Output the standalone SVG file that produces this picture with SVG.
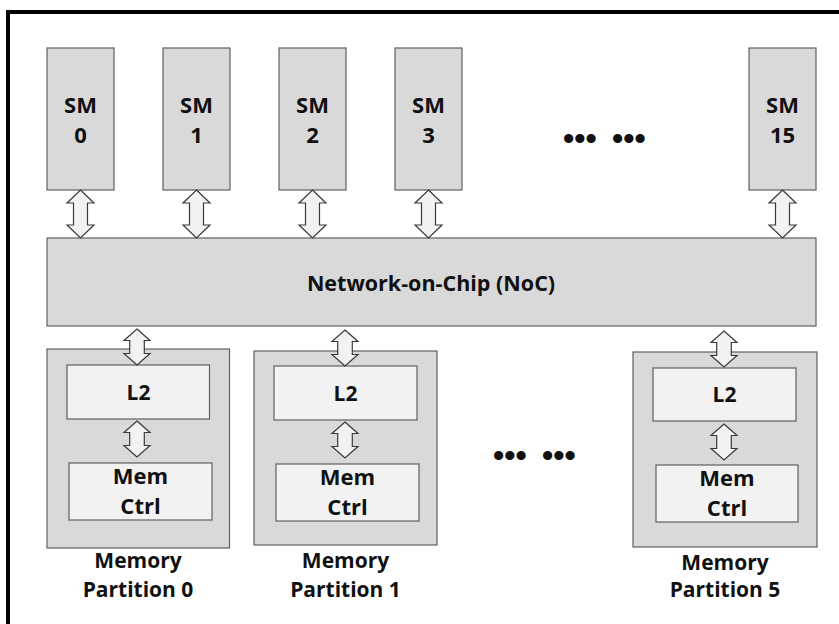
<svg xmlns="http://www.w3.org/2000/svg" width="839" height="624" viewBox="0 0 839 624">
  <defs>
    <style>
      .blk { fill: #d9d9d9; stroke: #5f5f5f; stroke-width: 1.2; }
      .inner { fill: #f2f2f2; stroke: #5f5f5f; stroke-width: 1.2; }
      .arrow { fill: #f2f2f2; stroke: #3a3a3a; stroke-width: 1.2; stroke-linejoin: miter; }
      .lbl { font-family: "Open Sans", "Liberation Sans", sans-serif; font-weight: bold; fill: #111; text-anchor: middle; }
      .dots { font-family: "Liberation Sans", sans-serif; font-weight: bold; fill: #111; font-size: 32px; word-spacing: 6.6px; }
    </style>
    <!-- double-headed block arrow, tip to tip 48px -->
    <path id="arrowBig" d="M0,0 L13.5,13 L7,13 L7,35 L13.5,35 L0,48 L-13.5,35 L-7,35 L-7,13 L-13.5,13 Z"/>
    <!-- shorter double-headed block arrow, tip to tip 36px -->
    <path id="arrowSmall" d="M0,0 L13,11.5 L7.3,11.5 L7.3,24.5 L13,24.5 L0,36 L-13,24.5 L-7.3,24.5 L-7.3,11.5 L-13,11.5 Z"/>
  </defs>

  <rect width="839" height="624" fill="#ffffff"/>
  <!-- outer frame -->
  <rect x="8" y="12" width="840" height="630" fill="none" stroke="#000" stroke-width="4"/>

  <!-- streaming multiprocessors -->
  <g id="sm0">
    <rect class="blk" x="47" y="48" width="67" height="142"/>
    <text class="lbl" x="80.5" y="113" font-size="22">SM</text>
    <text class="lbl" x="80.5" y="143" font-size="22">0</text>
  </g>
  <g id="sm1">
    <rect class="blk" x="163" y="48" width="67" height="142"/>
    <text class="lbl" x="196.5" y="113" font-size="22">SM</text>
    <text class="lbl" x="196.5" y="143" font-size="22">1</text>
  </g>
  <g id="sm2">
    <rect class="blk" x="279" y="48" width="67" height="142"/>
    <text class="lbl" x="312.5" y="113" font-size="22">SM</text>
    <text class="lbl" x="312.5" y="143" font-size="22">2</text>
  </g>
  <g id="sm3">
    <rect class="blk" x="395" y="48" width="67" height="142"/>
    <text class="lbl" x="428.5" y="113" font-size="22">SM</text>
    <text class="lbl" x="428.5" y="143" font-size="22">3</text>
  </g>
  <g id="sm-ellipsis">
    <text class="dots" x="563" y="149">••• •••</text>
  </g>
  <g id="sm15">
    <rect class="blk" x="749" y="48" width="67" height="142"/>
    <text class="lbl" x="782.5" y="113" font-size="22">SM</text>
    <text class="lbl" x="782.5" y="143" font-size="22">15</text>
  </g>

  <!-- interconnect -->
  <g id="noc">
    <rect class="blk" x="47" y="238" width="769" height="88"/>
    <text class="lbl" x="431" y="291" font-size="21.5">Network-on-Chip (NoC)</text>
  </g>

  <!-- memory partitions -->
  <g id="partition0">
    <rect class="blk" x="47" y="349" width="182.5" height="199"/>
    <rect class="inner" x="67" y="365" width="142.5" height="54"/>
    <text class="lbl" x="138.5" y="400" font-size="21">L2</text>
    <rect class="inner" x="69" y="463" width="143" height="57"/>
    <text class="lbl" x="140.5" y="484" font-size="22">Mem</text>
    <text class="lbl" x="140.5" y="514" font-size="22">Ctrl</text>
    <text class="lbl" x="138" y="568" font-size="21">Memory</text>
    <text class="lbl" x="138" y="597" font-size="21">Partition 0</text>
  </g>
  <g id="partition1">
    <rect class="blk" x="254" y="351" width="183" height="194"/>
    <rect class="inner" x="274" y="366" width="143" height="54"/>
    <text class="lbl" x="345.5" y="401" font-size="21">L2</text>
    <rect class="inner" x="276" y="464" width="143" height="57"/>
    <text class="lbl" x="347.5" y="485" font-size="22">Mem</text>
    <text class="lbl" x="347.5" y="515" font-size="22">Ctrl</text>
    <text class="lbl" x="345.5" y="568" font-size="21">Memory</text>
    <text class="lbl" x="345.5" y="597" font-size="21">Partition 1</text>
  </g>
  <g id="partition-ellipsis">
    <text class="dots" x="493" y="466">••• •••</text>
  </g>
  <g id="partition5">
    <rect class="blk" x="633" y="352" width="184" height="195"/>
    <rect class="inner" x="653" y="368" width="143" height="53"/>
    <text class="lbl" x="724.5" y="402" font-size="21">L2</text>
    <rect class="inner" x="656" y="465" width="142" height="57"/>
    <text class="lbl" x="727" y="486" font-size="22">Mem</text>
    <text class="lbl" x="727" y="516" font-size="22">Ctrl</text>
    <text class="lbl" x="725" y="570" font-size="21">Memory</text>
    <text class="lbl" x="725" y="597" font-size="21">Partition 5</text>
  </g>

  <!-- connectors -->
  <g id="connectors" class="arrow">
    <use href="#arrowBig" x="80.5" y="190"/>
    <use href="#arrowBig" x="196.5" y="190"/>
    <use href="#arrowBig" x="312.5" y="190"/>
    <use href="#arrowBig" x="428.5" y="190"/>
    <use href="#arrowBig" x="782.5" y="190"/>
    <use href="#arrowSmall" x="137" y="329"/>
    <use href="#arrowSmall" x="137" y="421"/>
    <use href="#arrowSmall" x="345" y="330"/>
    <use href="#arrowSmall" x="345" y="422"/>
    <use href="#arrowSmall" x="724" y="331"/>
    <use href="#arrowSmall" x="724" y="424"/>
  </g>
</svg>
